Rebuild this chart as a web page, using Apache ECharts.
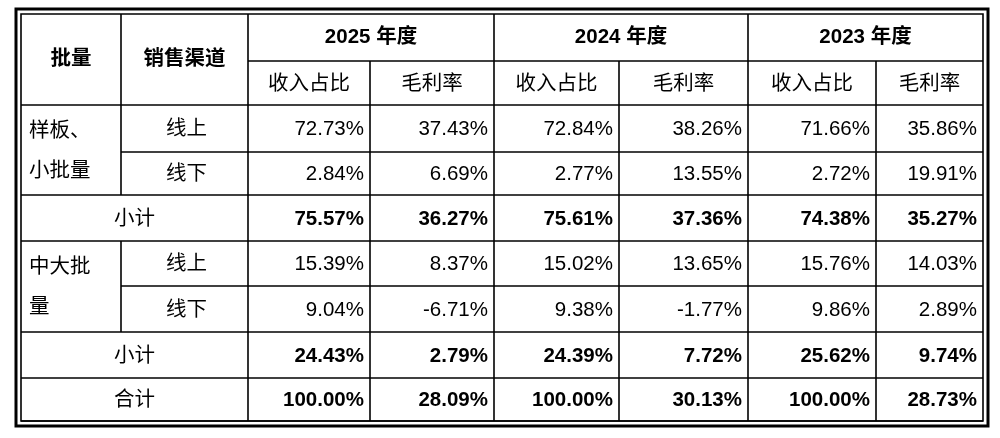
<!DOCTYPE html><html><head><meta charset="utf-8">
<script src="https://cdn.jsdelivr.net/npm/echarts@6/dist/echarts.min.js"></script>
<style>html,body{margin:0;background:#fff}#c{width:1000px;height:438px}</style></head><body><div id="c"></div>
<script>
const years = ['2025 年度','2024 年度','2023 年度'];
const subHeaders = ['收入占比','毛利率'];
const rowGroups = ['样板、\n小批量','中大批\n量'];
const channels = ['线上','线下'];
const rows = [
 ['72.73%','37.43%','72.84%','38.26%','71.66%','35.86%'],
 ['2.84%','6.69%','2.77%','13.55%','2.72%','19.91%'],
 ['75.57%','36.27%','75.61%','37.36%','74.38%','35.27%'],
 ['15.39%','8.37%','15.02%','13.65%','15.76%','14.03%'],
 ['9.04%','-6.71%','9.38%','-1.77%','9.86%','2.89%'],
 ['24.43%','2.79%','24.39%','7.72%','25.62%','9.74%'],
 ['100.00%','28.09%','100.00%','30.13%','100.00%','28.73%']
];
const rowLabels = ['小计','小计','合计'];

const X=[21,121,248,370,494,619,748,876,983];
const Y=[14,61,105,152,195,241,286,332,378,421];
const g=[];
const FF='"Liberation Sans","Noto Sans CJK SC",sans-serif';
function line(x1,y1,x2,y2,w){g.push({type:'line',shape:{x1,y1,x2,y2},style:{stroke:'#000',lineWidth:w||1.6}});}
function text(t,x,y,align,bold,lh){g.push({type:'text',x,y,style:{text:t,fill:'#000',font:(bold?'bold ':'')+'20.5px '+FF,align:align||'center',verticalAlign:'middle',lineHeight:lh||22}});}
g.push({type:'rect',shape:{x:16,y:9,width:972,height:417},style:{fill:'none',stroke:'#000',lineWidth:3}});
g.push({type:'rect',shape:{x:X[0],y:Y[0],width:X[8]-X[0],height:Y[9]-Y[0]},style:{fill:'none',stroke:'#000',lineWidth:1.6}});
line(X[1],Y[0],X[1],Y[2]);
for(let i=2;i<8;i++) line(X[i],i%2===0?Y[0]:Y[1],X[i],Y[9]);
line(X[2],Y[1],X[8],Y[1]);
line(X[0],Y[2],X[8],Y[2]);
const mid=(a,b)=>(a+b)/2;
text('批量',mid(X[0],X[1]),mid(Y[0],Y[2]),'center',true);
text('销售渠道',mid(X[1],X[2]),mid(Y[0],Y[2]),'center',true);
years.forEach((y,i)=>{text(y,mid(X[2+2*i],X[4+2*i]),mid(Y[0],Y[1]),'center',true);
 subHeaders.forEach((s,j)=>text(s,mid(X[2+2*i+j],X[3+2*i+j]),mid(Y[1],Y[2])+1,'center',false));});
const dataRowIdx=[0,1,3,4];
for(let r=0;r<7;r++){
 const y0=Y[2+r],y1=Y[3+r];
 line((r===0||r===3)?X[1]:X[0], y1, X[8], y1);
 rows[r].forEach((v,c)=>text(v,X[3+c]-6,mid(y0,y1)+1,'right',!dataRowIdx.includes(r)));
}
[[0,2],[3,5]].forEach(([a,b],k)=>{
 line(X[1],Y[2+a],X[1],Y[2+b]);
 text(rowGroups[k],X[0]+8,mid(Y[2+a],Y[2+b])+1,'left',false,40);
 channels.forEach((ch,j)=>text(ch,mid(X[1],X[2])+2,mid(Y[2+a+j],Y[3+a+j])+1,'center',false));
});
[2,5,6].forEach((r,k)=>text(rowLabels[k],mid(X[0],X[2]),mid(Y[2+r],Y[3+r])+1,'center',false));
const chart=echarts.init(document.getElementById('c'));
chart.setOption({animation:false,graphic:{elements:g}});
</script></body></html>
